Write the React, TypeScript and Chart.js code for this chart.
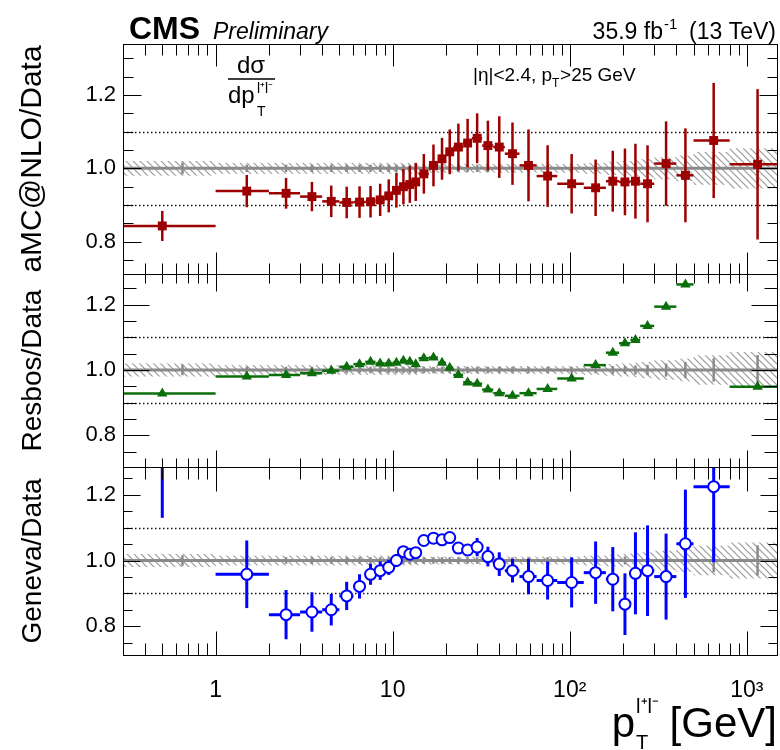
import React, { useEffect, useRef } from "react";
import { Chart, registerables } from "chart.js";

Chart.register(...registerables);

// ---------------- data ----------------
const binEdges = [0, 1, 2, 3, 4, 5, 6, 7, 8, 9, 10, 11, 12, 13, 14, 16, 18, 20, 22, 25, 28, 32, 37, 43, 52, 65, 85, 120, 160, 190, 220, 250, 300, 400, 500, 800, 1500];
const binCenters = [0.5, 1.5, 2.5, 3.5, 4.5, 5.5, 6.5, 7.5, 8.5, 9.5, 10.5, 11.5, 12.5, 13.5, 15, 17, 19, 21, 23.5, 26.5, 30, 34.5, 40, 47.5, 58.5, 75, 102.5, 140, 175, 205, 235, 275, 350, 450, 650, 1150];
const dataStatX = [0.65, 1.5, 2.5, 3.5, 4.5, 5.5, 6.5, 7.5, 8.5, 9.5, 10.5, 11.5, 12.5, 13.5, 15, 17, 19, 21, 23.5, 26.5, 30, 34.5, 40, 47.5, 58.5, 75, 102.5, 140, 175, 205, 235, 275, 350, 450, 650, 1150];

const amcRatio = [0.843, 0.938, 0.932, 0.923, 0.910, 0.907, 0.908, 0.909, 0.914, 0.925, 0.940, 0.950, 0.956, 0.963, 0.985, 1.008, 1.026, 1.045, 1.058, 1.069, 1.082, 1.062, 1.058, 1.040, 1.008, 0.979, 0.958, 0.947, 0.965, 0.963, 0.965, 0.958, 1.013, 0.981, 1.076, 1.011];
const amcErr = [0.041, 0.044, 0.042, 0.040, 0.043, 0.043, 0.043, 0.043, 0.044, 0.045, 0.047, 0.048, 0.050, 0.052, 0.054, 0.057, 0.057, 0.061, 0.064, 0.066, 0.068, 0.068, 0.084, 0.085, 0.098, 0.084, 0.081, 0.077, 0.083, 0.091, 0.102, 0.105, 0.115, 0.128, 0.157, 0.205];

const resbosRatio = [0.928, 0.980, 0.985, 0.990, 0.998, 1.010, 1.018, 1.025, 1.020, 1.020, 1.022, 1.028, 1.025, 1.018, 1.036, 1.038, 1.022, 1.007, 0.985, 0.962, 0.958, 0.940, 0.929, 0.921, 0.929, 0.942, 0.974, 1.015, 1.053, 1.082, 1.092, 1.135, 1.194, 1.262, 1.400, 0.949];

const genevaRatio = [1.450, 0.958, 0.835, 0.843, 0.850, 0.892, 0.921, 0.958, 0.969, 0.979, 1.000, 1.027, 1.019, 1.024, 1.061, 1.068, 1.063, 1.070, 1.038, 1.032, 1.041, 1.012, 0.989, 0.969, 0.951, 0.939, 0.933, 0.963, 0.943, 0.867, 0.961, 0.969, 0.951, 1.051, 1.225, null];
const genevaErr = [0.320, 0.103, 0.075, 0.060, 0.048, 0.043, 0.037, 0.032, 0.028, 0.023, 0.020, 0.015, 0.012, 0.012, 0.010, 0.010, 0.010, 0.010, 0.010, 0.012, 0.028, 0.030, 0.036, 0.036, 0.054, 0.058, 0.076, 0.095, 0.098, 0.094, 0.125, 0.138, 0.131, 0.165, 0.230, 0];

const dataStatErr = [0.016, 0.010, 0.010, 0.010, 0.010, 0.010, 0.010, 0.010, 0.010, 0.010, 0.010, 0.010, 0.010, 0.010, 0.010, 0.010, 0.010, 0.010, 0.010, 0.010, 0.010, 0.010, 0.010, 0.010, 0.010, 0.010, 0.010, 0.010, 0.012, 0.012, 0.014, 0.016, 0.020, 0.025, 0.036, 0.046];
const dataTotalErr = [0.020, 0.015, 0.015, 0.015, 0.015, 0.015, 0.015, 0.015, 0.015, 0.015, 0.015, 0.015, 0.015, 0.015, 0.012, 0.012, 0.012, 0.012, 0.012, 0.012, 0.012, 0.012, 0.012, 0.012, 0.012, 0.012, 0.012, 0.015, 0.018, 0.020, 0.022, 0.025, 0.030, 0.035, 0.045, 0.055];

const xMajorTicks = [1, 10, 100, 1000];
const xTickLabels = ["1", "10", "10²", "10³"];
const xMinorTicks = [0.4, 0.5, 0.6, 0.7, 0.8, 0.9, 2, 3, 4, 5, 6, 7, 8, 9, 20, 30, 40, 50, 60, 70, 80, 90, 200, 300, 400, 500, 600, 700, 800, 900];
const yMajorTicks = [0.8, 1.0, 1.2];
const yMinorTicks = [0.75, 0.85, 0.9, 0.95, 1.05, 1.1, 1.15, 1.25, 1.3];
const refLines = [0.9, 1.1];

const panelTitles = ["aMC@NLO/Data", "Resbos/Data", "Geneva/Data"];
const panelIds = ["yAmc", "yRes", "yGen"];
const panelRanges = [
  [0.712, 1.339],
  [0.703, 1.294],
  [0.712, 1.285],
];
const panelHeights = [230, 193, 188];

// ---------------- styles ----------------
const FONT = "'Liberation Sans', Arial, Helvetica, sans-serif";
const RED = "#9c0000";
const GREEN = "#0a6e0a";
const BLUE = "#0000ff";
const GRAY = "#8a8a8a";

const seriesStyles = [
  { values: amcRatio, errors: amcErr, color: RED, lw: 2.5 },
  { values: resbosRatio, errors: null as number[] | null, color: GREEN, lw: 2.5 },
  { values: genevaRatio, errors: genevaErr, color: BLUE, lw: 3 },
];
const tickLens = [
  { xMaj: 22, xMin: 11, yMaj: 18, yMin: 10 },
  { xMaj: 17, xMin: 9, yMaj: 26, yMin: 13 },
  { xMaj: 24, xMin: 12, yMaj: 17, yMin: 9 },
];
const titleSizes = [30, 28, 28];

function makeHatch(): CanvasPattern | string {
  const c = document.createElement("canvas");
  c.width = 7;
  c.height = 7;
  const g = c.getContext("2d");
  if (!g) return "rgba(150,150,150,0.3)";
  g.strokeStyle = "#9a9a9a";
  g.lineWidth = 1.2;
  g.beginPath();
  g.moveTo(0, 0);
  g.lineTo(7, 7);
  g.moveTo(-1, 6);
  g.lineTo(1, 8);
  g.moveTo(6, -1);
  g.lineTo(8, 1);
  g.stroke();
  const p = g.createPattern(c, "repeat");
  return p || "rgba(150,150,150,0.3)";
}

function line(ctx: CanvasRenderingContext2D, x0: number, y0: number, x1: number, y1: number) {
  ctx.beginPath();
  ctx.moveTo(x0, y0);
  ctx.lineTo(x1, y1);
  ctx.stroke();
}

function makePlugin(hatch: CanvasPattern | string) {
  return {
    id: "rootRatio",
    beforeDatasetsDraw(chart: any) {
      const ctx: CanvasRenderingContext2D = chart.ctx;
      const xs = chart.scales.x;
      const X = (v: number) => xs.getPixelForValue(Math.max(v, xs.min));
      panelIds.forEach((id, k) => {
        const ys = chart.scales[id];
        const Y = (v: number) => ys.getPixelForValue(v);
        ctx.save();
        ctx.beginPath();
        ctx.rect(xs.left, ys.top, xs.right - xs.left, ys.bottom - ys.top);
        ctx.clip();
        // hatched data uncertainty band
        ctx.fillStyle = hatch as any;
        for (let i = 0; i < binCenters.length; i++) {
          const x0 = X(binEdges[i]);
          const x1 = X(binEdges[i + 1]);
          const y0 = Y(1 + dataTotalErr[i]);
          const y1 = Y(1 - dataTotalErr[i]);
          ctx.fillRect(x0, y0, x1 - x0, y1 - y0);
        }
        // dotted reference lines
        ctx.strokeStyle = "#111";
        ctx.lineWidth = 1.4;
        ctx.setLineDash([1.5, 2.5]);
        refLines.forEach((v) => {
          const y = Math.round(Y(v)) + 0.5;
          line(ctx, xs.left, y, xs.right, y);
        });
        ctx.setLineDash([]);
        // unity line
        ctx.strokeStyle = GRAY;
        ctx.lineWidth = 3;
        line(ctx, xs.left, Y(1), xs.right, Y(1));
        // data stat bars
        ctx.lineWidth = 2.5;
        for (let i = 0; i < dataStatX.length; i++) {
          const x = X(dataStatX[i]);
          line(ctx, x, Y(1 + dataStatErr[i]), x, Y(1 - dataStatErr[i]));
        }
        // model error bars
        const s = seriesStyles[k];
        ctx.strokeStyle = s.color;
        ctx.lineWidth = s.lw;
        for (let i = 0; i < binCenters.length; i++) {
          const v = s.values[i];
          if (v === null || v === undefined) continue;
          const y = Y(v);
          line(ctx, X(binEdges[i]), y, X(binEdges[i + 1]), y);
          if (s.errors) {
            const e = s.errors[i];
            const x = X(binCenters[i]);
            line(ctx, x, Y(v + e), x, Y(v - e));
          }
        }
        ctx.restore();
      });
    },
    beforeDatasetDraw(chart: any, args: any) {
      const ctx: CanvasRenderingContext2D = chart.ctx;
      const xs = chart.scales.x;
      const ys = chart.scales[args.meta.yAxisID];
      ctx.save();
      ctx.beginPath();
      ctx.rect(xs.left, ys.top, xs.right - xs.left, ys.bottom - ys.top);
      ctx.clip();
    },
    afterDatasetDraw(chart: any) {
      chart.ctx.restore();
    },
    afterDraw(chart: any) {
      const ctx: CanvasRenderingContext2D = chart.ctx;
      const xs = chart.scales.x;
      const X = (v: number) => Math.round(xs.getPixelForValue(v)) + 0.5;
      ctx.save();
      ctx.strokeStyle = "#000";
      ctx.lineWidth = 1;
      panelIds.forEach((id, k) => {
        const ys = chart.scales[id];
        const L = tickLens[k];
        const top = Math.round(ys.top) + 0.5;
        const bot = Math.round(ys.bottom) + 0.5;
        const left = Math.round(xs.left) + 0.5;
        const right = Math.round(xs.right) - 0.5;
        ctx.strokeRect(left, top, right - left, bot - top);
        xMajorTicks.forEach((v) => {
          const x = X(v);
          line(ctx, x, bot, x, bot - L.xMaj);
          line(ctx, x, top, x, top + L.xMaj);
        });
        xMinorTicks.forEach((v) => {
          const x = X(v);
          line(ctx, x, bot, x, bot - L.xMin);
          line(ctx, x, top, x, top + L.xMin);
        });
        const [mn, mx] = panelRanges[k];
        yMajorTicks.forEach((v) => {
          if (v < mn || v > mx) return;
          const y = Math.round(ys.getPixelForValue(v)) + 0.5;
          line(ctx, left, y, left + L.yMaj, y);
          line(ctx, right, y, right - L.yMaj, y);
        });
        yMinorTicks.forEach((v) => {
          if (v < mn || v > mx) return;
          const y = Math.round(ys.getPixelForValue(v)) + 0.5;
          line(ctx, left, y, left + L.yMin, y);
          line(ctx, right, y, right - L.yMin, y);
        });
      });

      // header texts
      ctx.fillStyle = "#000";
      ctx.textBaseline = "alphabetic";
      ctx.textAlign = "left";
      ctx.font = `bold 32px ${FONT}`;
      ctx.fillText("CMS", 129, 39);
      ctx.font = `italic 23px ${FONT}`;
      ctx.fillText("Preliminary", 213, 39);

      const lumiA = "35.9 fb";
      const lumiSup = "-1";
      const lumiB = "  (13 TeV)";
      ctx.font = `23px ${FONT}`;
      const wA = ctx.measureText(lumiA).width;
      const wB = ctx.measureText(lumiB).width;
      ctx.font = `15px ${FONT}`;
      const wS = ctx.measureText(lumiSup).width;
      const lx = 776 - (wA + wS + wB);
      ctx.font = `23px ${FONT}`;
      ctx.fillText(lumiA, lx, 39);
      ctx.font = `15px ${FONT}`;
      ctx.fillText(lumiSup, lx + wA + 1, 29);
      ctx.font = `23px ${FONT}`;
      ctx.fillText(lumiB, lx + wA + wS, 39);

      // d sigma / dpT fraction
      ctx.font = `24px ${FONT}`;
      ctx.textAlign = "center";
      ctx.fillText("dσ", 251, 73);
      ctx.lineWidth = 1.5;
      line(ctx, 228, 79, 275, 79);
      ctx.textAlign = "left";
      ctx.fillText("dp", 228, 103);
      ctx.font = `14px ${FONT}`;
      ctx.fillText("T", 257, 116);
      ctx.fillText("l⁺l⁻", 257, 93);

      // selection text
      ctx.font = `19px ${FONT}`;
      const selA = "|η|<2.4, p";
      ctx.fillText(selA, 473, 81);
      const wSel = ctx.measureText(selA).width;
      ctx.font = `12px ${FONT}`;
      ctx.fillText("T", 473 + wSel, 87);
      ctx.font = `19px ${FONT}`;
      ctx.fillText(">25 GeV", 473 + wSel + 8, 81);

      // x-axis title
      ctx.font = `42px ${FONT}`;
      const tB = " [GeV]";
      const wTB = ctx.measureText(tB).width;
      const wP = ctx.measureText("p").width;
      ctx.font = `20px ${FONT}`;
      const wSupT = ctx.measureText("l⁺l⁻").width;
      const tx = 777 - wTB - wSupT - wP;
      ctx.font = `42px ${FONT}`;
      ctx.fillText("p", tx, 737);
      ctx.fillText(tB, tx + wP + wSupT, 737);
      ctx.font = `20px ${FONT}`;
      ctx.fillText("l⁺l⁻", tx + wP + 1, 713);
      ctx.fillText("T", tx + wP + 1, 749);
      ctx.restore();
    },
  };
}

function yScale(k: number, weight: number) {
  return {
    type: "linear" as const,
    position: "left" as const,
    stack: "panels",
    stackWeight: panelHeights[k],
    weight,
    min: panelRanges[k][0],
    max: panelRanges[k][1],
    afterBuildTicks: (scale: any) => {
      scale.ticks = yMajorTicks.map((v) => ({ value: v }));
    },
    afterFit: (scale: any) => {
      scale.width = 123;
      scale.paddingTop = 0;
      scale.paddingBottom = 0;
    },
    grid: { display: false, drawTicks: false },
    border: { display: false },
    ticks: {
      autoSkip: false,
      padding: 7,
      color: "#000",
      font: { family: FONT, size: 22 },
      callback: (v: any) => Number(v).toFixed(1),
    },
    title: {
      display: true,
      text: panelTitles[k],
      align: "center" as const,
      color: "#000",
      font: { family: FONT, size: titleSizes[k], lineHeight: 1.2 },
      padding: { top: 33 - (titleSizes[k] * 1.2) / 2, bottom: 0 },
    },
  };
}

export default function App() {
  const ref = useRef<HTMLCanvasElement | null>(null);
  useEffect(() => {
    const canvas = ref.current;
    if (!canvas) return;
    const hatch = makeHatch();
    const mk = (vals: (number | null)[]) => binCenters.map((x, i) => ({ x, y: vals[i] }));
    const chart = new Chart(canvas, {
      type: "scatter",
      data: {
        datasets: [
          {
            label: "aMC@NLO",
            data: mk(amcRatio) as any,
            yAxisID: "yAmc",
            pointStyle: "rect",
            pointRadius: 6.3,
            backgroundColor: RED,
            borderColor: RED,
            borderWidth: 0,
          },
          {
            label: "Resbos",
            data: mk(resbosRatio) as any,
            yAxisID: "yRes",
            pointStyle: "triangle",
            pointRadius: 6,
            backgroundColor: GREEN,
            borderColor: GREEN,
            borderWidth: 0,
          },
          {
            label: "Geneva",
            data: mk(genevaRatio) as any,
            yAxisID: "yGen",
            pointStyle: "circle",
            pointRadius: 5.5,
            backgroundColor: "#ffffff",
            borderColor: BLUE,
            borderWidth: 2,
          },
        ],
      },
      options: {
        responsive: false,
        animation: false,
        devicePixelRatio: 1,
        events: [],
        layout: { autoPadding: false, padding: { left: 0, right: 2, top: 44, bottom: 0 } },
        plugins: { legend: { display: false }, tooltip: { enabled: false } },
        scales: {
          x: {
            type: "logarithmic",
            position: "bottom",
            min: 0.3,
            max: 1500,
            afterBuildTicks: (scale: any) => {
              scale.ticks = xMajorTicks.map((v) => ({ value: v }));
            },
            afterFit: (scale: any) => {
              scale.height = 95;
              scale.paddingLeft = 0;
              scale.paddingRight = 0;
            },
            grid: {
              display: true,
              drawOnChartArea: false,
              drawTicks: true,
              tickLength: 22,
              color: "rgba(0,0,0,0)",
            },
            border: { display: false },
            ticks: {
              autoSkip: false,
              maxRotation: 0,
              padding: 0,
              color: "#000",
              font: { family: FONT, size: 23 },
              callback: (v: any) => {
                const i = xMajorTicks.indexOf(Number(v));
                return i >= 0 ? xTickLabels[i] : "";
              },
            },
          },
          yGen: yScale(2, 1),
          yRes: yScale(1, 2),
          yAmc: yScale(0, 3),
        } as any,
      },
      plugins: [makePlugin(hatch)],
    });
    return () => chart.destroy();
  }, []);
  return (
    <div style={{ position: "fixed", left: 0, top: 0, width: 780, height: 750, background: "#fff" }}>
      <canvas ref={ref} width={780} height={750} style={{ width: 780, height: 750, display: "block" }} />
    </div>
  );
}
